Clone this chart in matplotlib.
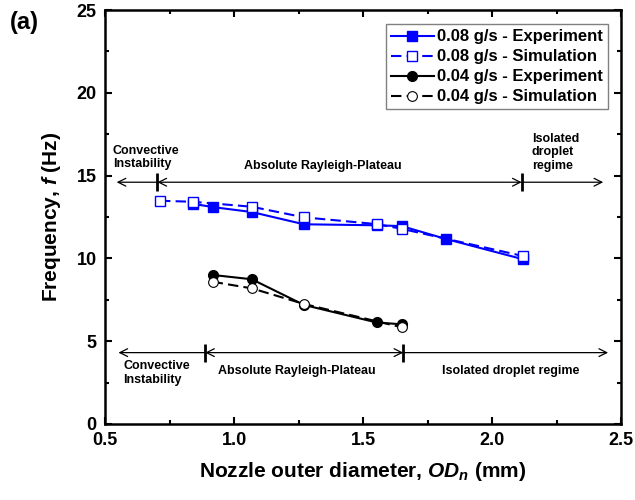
import matplotlib.pyplot as plt
from matplotlib.ticker import MultipleLocator

plt.rcParams['font.family'] = ['Liberation Sans', 'DejaVu Sans']
plt.rcParams['font.weight'] = 'bold'
plt.rcParams['mathtext.fontset'] = 'custom'
plt.rcParams['mathtext.it'] = 'Liberation Sans:italic:bold'
plt.rcParams['mathtext.rm'] = 'Liberation Sans:bold'

# 0.08 g/s
od_exp_08 = [0.84, 0.917, 1.069, 1.271, 1.553, 1.65, 1.822, 2.12]
f_exp_08 = [13.3, 13.1, 12.8, 12.06, 12.0, 11.95, 11.17, 9.95]
od_sim_08 = [0.713, 0.84, 1.069, 1.271, 1.553, 1.652, 2.121]
f_sim_08 = [13.48, 13.42, 13.12, 12.48, 12.07, 11.78, 10.14]

# 0.04 g/s
od_exp_04 = [0.917, 1.069, 1.271, 1.553, 1.65]
f_exp_04 = [9.0, 8.74, 7.19, 6.13, 6.02]
od_sim_04 = [0.917, 1.069, 1.271, 1.65]
f_sim_04 = [8.59, 8.19, 7.25, 5.84]

# regime boundaries (x) and arrow heights (y)
regimes_08 = [0.545, 0.703, 2.115, 2.431]
arrow_y_08 = 14.6
regimes_04 = [0.552, 0.888, 1.656, 2.45]
arrow_y_04 = 4.31

blue = '#0000FF'
dash = (5, 2.5)

fig = plt.figure(figsize=(6.35, 5), dpi=100)
ax = fig.add_axes([0.1654, 0.152, 0.8126, 0.828])

ax.plot(od_exp_08, f_exp_08, '-', color=blue, lw=1.5, marker='s', ms=7,
        mfc=blue, mec=blue, label='0.08 g/s - Experiment')
ax.plot(od_sim_08, f_sim_08, '--', dashes=dash, color=blue, lw=1.5, marker='s', ms=7,
        mfc='white', mec=blue, mew=1, label='0.08 g/s - Simulation')
ax.plot(od_exp_04, f_exp_04, '-', color='black', lw=1.5, marker='o', ms=7,
        mfc='black', mec='black', label='0.04 g/s - Experiment')
ax.plot(od_sim_04, f_sim_04, '--', dashes=dash, color='black', lw=1.5, marker='o', ms=7,
        mfc='white', mec='black', mew=0.8, label='0.04 g/s - Simulation')


def regime_arrows(xs, y, half):
    a, b, c, d = xs
    kw = dict(color='black', lw=0.9, shrinkA=0, shrinkB=0, mutation_scale=14)
    ax.annotate('', xy=(a, y), xytext=(b, y), arrowprops=dict(arrowstyle='->', **kw))
    ax.annotate('', xy=(b, y), xytext=(c, y), arrowprops=dict(arrowstyle='<->', **kw))
    ax.annotate('', xy=(d, y), xytext=(c, y), arrowprops=dict(arrowstyle='->', **kw))
    ax.vlines([b, c], y - half, y + half, color='black', lw=2)


regime_arrows(regimes_08, arrow_y_08, 0.55)
regime_arrows(regimes_04, arrow_y_04, 0.55)

tkw = dict(fontsize=9, fontweight='bold', linespacing=1.15)
ax.text(0.53, 16.1, 'Convective\nInstability', ha='left', va='center', **tkw)
ax.text(1.343, 15.6, 'Absolute Rayleigh-Plateau', ha='center', va='center', **tkw)
ax.text(2.154, 16.4, 'Isolated\ndroplet\nregime', ha='left', va='center', **tkw)
ax.text(0.571, 3.08, 'Convective\nInstability', ha='left', va='center', **tkw)
ax.text(1.244, 3.22, 'Absolute Rayleigh-Plateau', ha='center', va='center', **tkw)
ax.text(2.074, 3.22, 'Isolated droplet regime', ha='center', va='center', **tkw)

ax.set_xlim(0.5, 2.5)
ax.set_ylim(0, 25)
ax.xaxis.set_major_locator(MultipleLocator(0.5))
ax.xaxis.set_minor_locator(MultipleLocator(0.25))
ax.yaxis.set_major_locator(MultipleLocator(5))
ax.yaxis.set_minor_locator(MultipleLocator(2.5))
ax.tick_params(which='both', direction='in', top=True, right=True, width=1.5)
ax.tick_params(which='major', length=5, labelsize=13, pad=6)
ax.tick_params(which='minor', length=3)
ax.xaxis.set_major_formatter(plt.FuncFormatter(lambda v, p: f'{v:.1f}'))
for lab in ax.get_xticklabels() + ax.get_yticklabels():
    lab.set_fontweight('bold')
for s in ax.spines.values():
    s.set_linewidth(1.8)

ax.set_xlabel('Nozzle outer diameter, $\\mathit{OD_n}$ (mm)', fontsize=15,
              fontweight='bold', labelpad=8)
ax.set_ylabel('Frequency, $\\mathit{f}$ (Hz)', fontsize=15, fontweight='bold',
              labelpad=10)

leg = ax.legend(loc='upper right', bbox_to_anchor=(0.975, 0.965), fontsize=12,
                handlelength=2.6, handletextpad=0.2, labelspacing=0.3,
                borderpad=0.3, borderaxespad=0, fancybox=False, framealpha=1)
leg.get_frame().set_edgecolor('#808080')
leg.get_frame().set_linewidth(1)
for t in leg.get_texts():
    t.set_fontweight('bold')

fig.text(0.015, 0.955, '(a)', fontsize=17, fontweight='bold', ha='left', va='center')

fig.savefig('out.png', dpi=100)
